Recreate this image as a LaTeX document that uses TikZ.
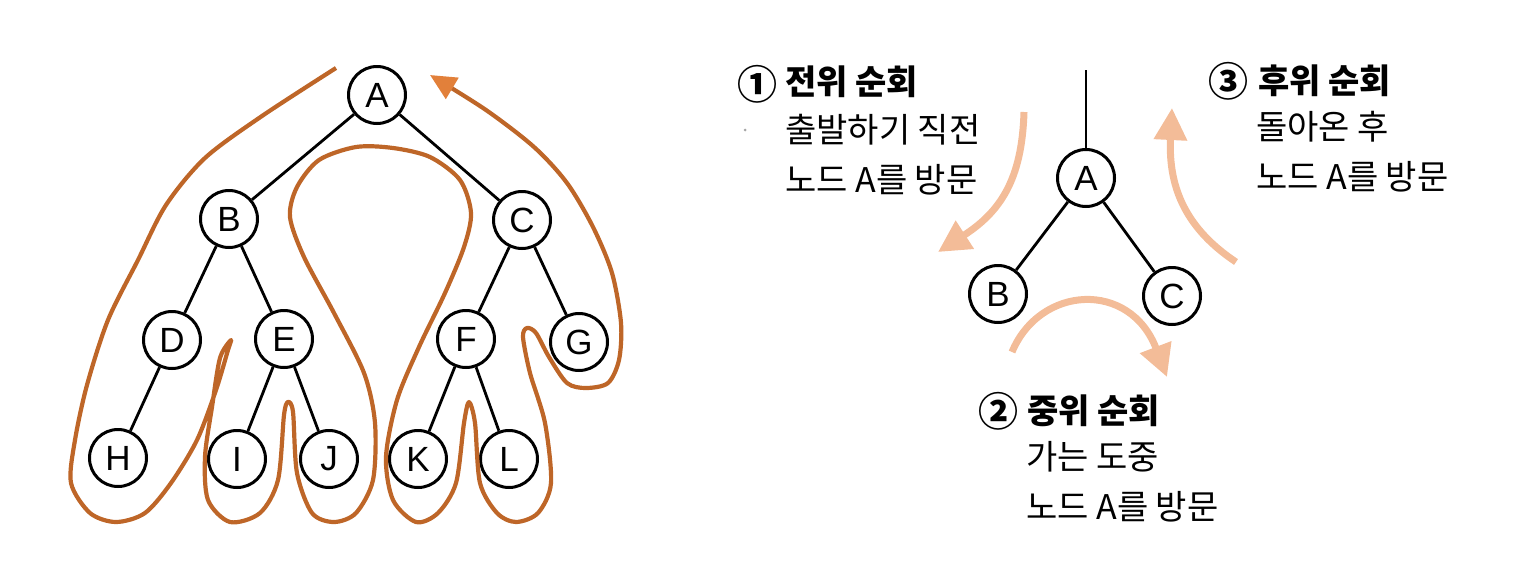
\documentclass[tikz,border=0pt]{standalone}
\usepackage{fontspec}
\setmainfont{Liberation Sans}
\newfontfamily\kr{Noto Sans CJK KR}
\usetikzlibrary{arrows.meta}
\definecolor{trav}{RGB}{190,102,40}
\definecolor{travhead}{RGB}{226,128,58}
\definecolor{peach}{RGB}{243,188,152}
\begin{document}
\begin{tikzpicture}[x=1pt,y=-1pt,
  tnode/.style={circle,draw,line width=3pt,minimum size=57pt,inner sep=0pt,
    font=\fontsize{35pt}{38pt}\selectfont},
  edge/.style={line width=2.8pt},
  travline/.style={draw=trav,line width=4.2pt,
    -{Triangle[length=26pt,width=24pt,fill=travhead,color=travhead]}},
  peacharrow/.style={draw=peach,line width=7pt,
    -{Triangle[length=32pt,width=32pt,fill=peach,color=peach]}},
  krtext/.style={anchor=west,inner sep=0pt,font=\kr\fontsize{34pt}{38pt}\selectfont},
  krtitle/.style={krtext,font=\kr\bfseries\fontsize{34pt}{38pt}\selectfont},
  circnum/.style={font=\kr\bfseries\fontsize{40pt}{40pt}\selectfont}]
\useasboundingbox (0,0) rectangle (1532,584);

% ---------- left tree ----------
\node[tnode] (A) at (377,95) {A};
\node[tnode] (B) at (229,219) {B};
\node[tnode] (C) at (522,220) {C};
\node[tnode] (D) at (172,340) {D};
\node[tnode] (E) at (284,339) {E};
\node[tnode] (F) at (466,339) {F};
\node[tnode] (G) at (579,342) {G};
\node[tnode] (H) at (118,458) {H};
\node[tnode] (I) at (237,459) {I};
\node[tnode] (J) at (329,459) {J};
\node[tnode] (K) at (418,459) {K};
\node[tnode] (L) at (509,459) {L};
\draw[edge] (A) -- (B);
\draw[edge] (A) -- (C);
\draw[edge] (B) -- (D);
\draw[edge] (B) -- (E);
\draw[edge] (C) -- (F);
\draw[edge] (C) -- (G);
\draw[edge] (D) -- (H);
\draw[edge] (E) -- (I);
\draw[edge] (E) -- (J);
\draw[edge] (F) -- (K);
\draw[edge] (F) -- (L);

% traversal path
\draw[travline, line join=round] plot[smooth, tension=0.5] coordinates {
 (336,68) (262,116) (205,158) (166,205) (138,260) (108,320) (87,385) (75,440) (71,483) (90,513)
 (116,522) (145,513) (171,483) (197,440) (216,390) (228,350) (231,340)
 (220,358) (212,407) (205,457) (208,500) (230,522) (260,513) (278,480)
 (284,415) (288,402) (293,412) (297,473) (312,513) (334,522) (356,513)
 (373,480) (375,423) (364,373) (334,313) (304,257) (290,217) (297,187)
 (319,160) (356,147) (393,148) (430,157) (460,180) (471,213) (464,247)
 (445,293) (419,347) (397,400) (386,457) (393,500) (416,522) (438,513)
 (456,483) (464,423) (469,402) (475,423) (480,483) (497,513) (516,522)
 (538,513) (551,483) (545,423) (530,373) (523,337) (527,328) (536,333)
 (549,357) (567,383) (586,388) (608,383) (619,360) (621,323) (612,273)
 (593,227) (567,183) (534,147) (486,110) (430,75)};

% ---------- right diagram ----------
\coordinate (top) at (1086,70);
\node[tnode] (RA) at (1086,178) {A};
\node[tnode] (RB) at (998,294) {B};
\node[tnode] (RC) at (1172,296) {C};
\draw[edge] (top) -- (RA);
\draw[edge] (RA) -- (RB);
\draw[edge] (RA) -- (RC);

\coordinate (p1s) at (1024,112);
\coordinate (p1e) at (938,252);
\coordinate (p2s) at (1012,352);
\coordinate (p2e) at (1167,377);
\coordinate (p3s) at (1236,262);
\coordinate (p3e) at (1172,108);
\draw[peacharrow] (p1s) .. controls (1022,180) and (1000,212) .. (p1e);
\draw[peacharrow] (p2s) .. controls (1040,285) and (1130,280) .. (p2e);
\draw[peacharrow] (p3s) .. controls (1188,230) and (1168,190) .. (p3e);

% texts
\node[circnum] (n1) at (757,84) {①};
\node[krtitle] (t1) at (785,82) {전위 순회};
\node[krtext] (t1a) at (785,130) {출발하기 직전};
\node[krtext] (t1b) at (785,180) {노드 A를 방문};
\fill[gray!70] (745,130) circle (1.5);

\node[circnum] (n3) at (1228,81) {③};
\node[krtitle] (t3) at (1258,81) {후위 순회};
\node[krtext] (t3a) at (1256,127) {돌아온 후};
\node[krtext] (t3b) at (1256,177) {노드 A를 방문};

\node[circnum] (n2) at (998,411) {②};
\node[krtitle] (t2) at (1027,411) {중위 순회};
\node[krtext] (t2a) at (1026,457) {가는 도중};
\node[krtext] (t2b) at (1026,507) {노드 A를 방문};
\end{tikzpicture}
\end{document}
